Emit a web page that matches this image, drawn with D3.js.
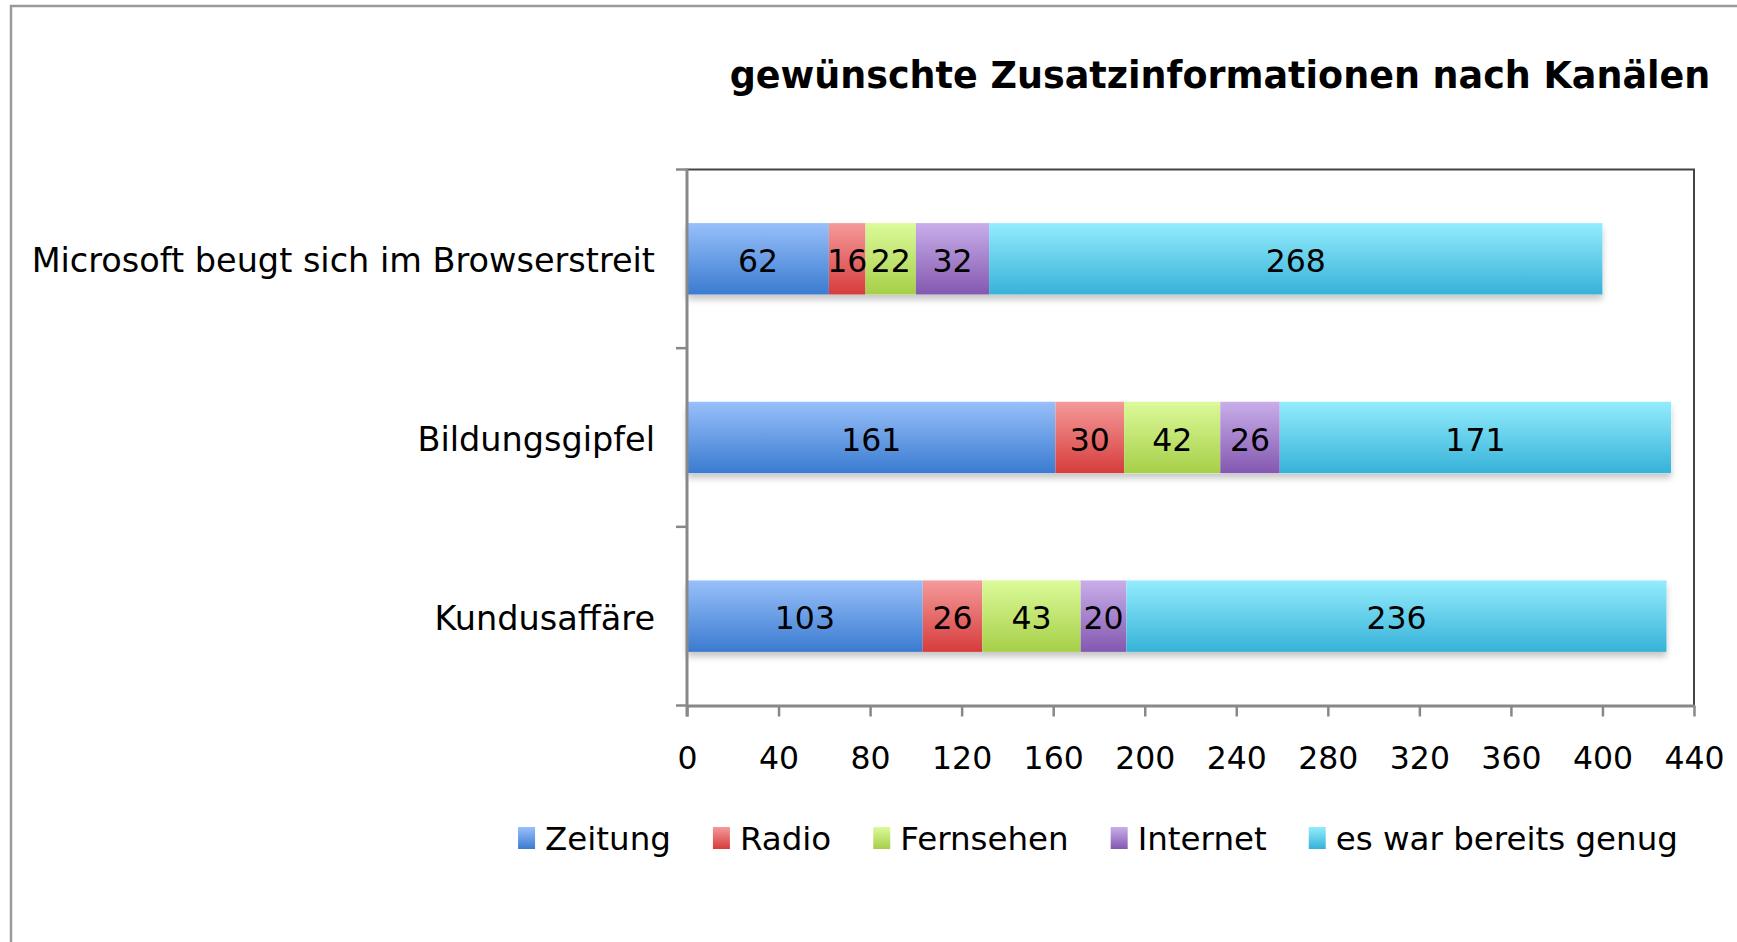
<!DOCTYPE html>
<html>
<head>
<meta charset="utf-8">
<script src="https://cdn.jsdelivr.net/npm/d3@7"></script>
<style>
	html, body { margin: 0; padding: 0; background: #fff; }
	svg text { font-family: "DejaVu Sans", Verdana, sans-serif; }
</style>
</head>
<body>
<div id="viz"></div>
<script>
"use strict";

var title = "gewünschte Zusatzinformationen nach Kanälen";
var categories = ["Microsoft beugt sich im Browserstreit", "Bildungsgipfel", "Kundusaffäre"];
var seriesNames = ["Zeitung", "Radio", "Fernsehen", "Internet", "es war bereits genug"];
var zeitung = [62, 161, 103];
var radio = [16, 30, 26];
var fernsehen = [22, 42, 43];
var internet = [32, 26, 20];
var genug = [268, 171, 236];
var xTicks = [0, 40, 80, 120, 160, 200, 240, 280, 320, 360, 400, 440];

// top / bottom colour of each series gradient
var colorsTop = ["#98c0fa", "#f59a9a", "#dcfa9a", "#c9aeea", "#94ecfd"];
var colorsBottom = ["#3a7bd0", "#d63c3c", "#a6cf48", "#8358b0", "#36b2d8"];

var series = [zeitung, radio, fernsehen, internet, genug];

var width = 1737,
	height = 942,
	plotLeft = 687,
	plotRight = 1694,
	plotTop = 169.5,
	plotBottom = 705.5,
	fontSize = 31.5,
	legendGap = 42;

var rows = categories.map(function(c, i) {
	var row = {category: c};
	seriesNames.forEach(function(s, j) { row[s] = series[j][i] });
	return row;
});

var stacked = d3.stack().keys(seriesNames)(rows);

var x = d3.scaleLinear()
	.domain([0, 440])
	.range([plotLeft, plotRight]);

var y = d3.scaleBand()
	.domain(categories)
	.range([plotTop, plotBottom])
	.paddingInner(0.6)
	.paddingOuter(0.3);

var svg = d3.select("#viz")
	.append("svg")
	.attr("width", width)
	.attr("height", height);

var defs = svg.append("defs");

seriesNames.forEach(function(s, i) {
	var g = defs.append("linearGradient")
		.attr("id", "grad" + i)
		.attr("x1", 0).attr("y1", 0)
		.attr("x2", 0).attr("y2", 1);
	g.append("stop").attr("offset", "0%").attr("stop-color", colorsTop[i]);
	g.append("stop").attr("offset", "100%").attr("stop-color", colorsBottom[i]);
});

var shadow = defs.append("filter")
	.attr("id", "shadow")
	.attr("x", "-5%").attr("y", "-20%")
	.attr("width", "110%").attr("height", "150%");
shadow.append("feDropShadow")
	.attr("dx", 0).attr("dy", 5)
	.attr("stdDeviation", 3)
	.attr("flood-color", "#000")
	.attr("flood-opacity", 0.22);

// outer frame
svg.append("rect")
	.attr("x", 11).attr("y", 6)
	.attr("width", width).attr("height", height)
	.attr("fill", "none")
	.attr("stroke", "#9a9a9a")
	.attr("stroke-width", 2.5);

svg.append("text")
	.attr("x", 1220)
	.attr("y", 75)
	.attr("text-anchor", "middle")
	.attr("dominant-baseline", "central")
	.attr("font-size", "36.5px")
	.attr("font-weight", "bold")
	.attr("fill", "#000")
	.text(title);

// plot frame (top / right)
svg.append("path")
	.attr("d", d3.line()([[plotLeft, plotTop], [plotRight, plotTop], [plotRight, plotBottom]]))
	.attr("fill", "none")
	.attr("stroke", "#444")
	.attr("stroke-width", 2);

var barGroup = svg.append("g");

// shadow under the whole bar, drawn behind
barGroup.append("g")
	.selectAll("rect")
	.data(rows)
	.enter()
	.append("rect")
	.attr("x", x(0))
	.attr("y", function(d) { return y(d.category) })
	.attr("width", function(d) { return x(d3.sum(seriesNames, function(s) { return d[s] })) - x(0) })
	.attr("height", y.bandwidth())
	.attr("fill", "#fff")
	.attr("filter", "url(#shadow)");

stacked.forEach(function(layer, i) {
	barGroup.append("g")
		.attr("fill", "url(#grad" + i + ")")
		.selectAll("rect")
		.data(layer)
		.enter()
		.append("rect")
		.attr("x", function(d) { return x(d[0]) })
		.attr("y", function(d) { return y(d.data.category) })
		.attr("width", function(d) { return x(d[1]) - x(d[0]) })
		.attr("height", y.bandwidth());
});

stacked.forEach(function(layer) {
	barGroup.append("g")
		.selectAll("text")
		.data(layer)
		.enter()
		.append("text")
		.attr("x", function(d) { return (x(d[0]) + x(d[1])) / 2 })
		.attr("y", function(d) { return y(d.data.category) + y.bandwidth() / 2 + 2 })
		.attr("text-anchor", "middle")
		.attr("dominant-baseline", "central")
		.attr("font-size", fontSize + "px")
		.attr("fill", "#000")
		.text(function(d) { return d[1] - d[0] });
});

// x axis
var xAxis = svg.append("g")
	.attr("transform", "translate(0," + plotBottom + ")")
	.call(d3.axisBottom(x).tickValues(xTicks).tickSize(11).tickSizeOuter(0).tickPadding(30));

xAxis.attr("font-family", null);
xAxis.select(".domain").attr("stroke", "#888").attr("stroke-width", 3);
xAxis.selectAll(".tick line").attr("stroke", "#888").attr("stroke-width", 2.5);
xAxis.selectAll(".tick text")
	.attr("font-size", fontSize + "px")
	.attr("fill", "#000");

// y axis: ticks sit on the band borders
var yBorders = categories.map(function(c) { return y(c) - y.step() * y.paddingInner() / 2 });
yBorders.push(plotBottom);
yBorders[0] = plotTop;

var yAxis = svg.append("g");
yAxis.append("line")
	.attr("x1", plotLeft).attr("x2", plotLeft)
	.attr("y1", plotTop - 1).attr("y2", plotBottom + 11)
	.attr("stroke", "#888")
	.attr("stroke-width", 3);
yAxis.selectAll("line.tick")
	.data(yBorders)
	.enter()
	.append("line")
	.attr("class", "tick")
	.attr("x1", plotLeft - 11).attr("x2", plotLeft)
	.attr("y1", function(d) { return d }).attr("y2", function(d) { return d })
	.attr("stroke", "#888")
	.attr("stroke-width", 2.5);
yAxis.selectAll("text")
	.data(categories)
	.enter()
	.append("text")
	.attr("x", 655)
	.attr("y", function(d) { return y(d) + y.bandwidth() / 2 + 2 })
	.attr("text-anchor", "end")
	.attr("dominant-baseline", "central")
	.attr("font-size", "33.5px")
	.attr("fill", "#000")
	.text(function(d) { return d });

// legend
var legend = svg.append("g");
var legendX = 0;
seriesNames.forEach(function(s, i) {
	var item = legend.append("g").attr("transform", "translate(" + legendX + ",0)");
	item.append("rect")
		.attr("x", 0).attr("y", -12)
		.attr("width", 17).attr("height", 22)
		.attr("fill", "url(#grad" + i + ")");
	var t = item.append("text")
		.attr("x", 27).attr("y", 0)
		.attr("dominant-baseline", "central")
		.attr("font-size", "32.5px")
		.attr("fill", "#000")
		.text(s);
	legendX += 27 + t.node().getComputedTextLength() + legendGap;
});
legendX -= legendGap;
legend.attr("transform", "translate(" + (1098 - legendX / 2) + ",839)");
</script>
</body>
</html>
